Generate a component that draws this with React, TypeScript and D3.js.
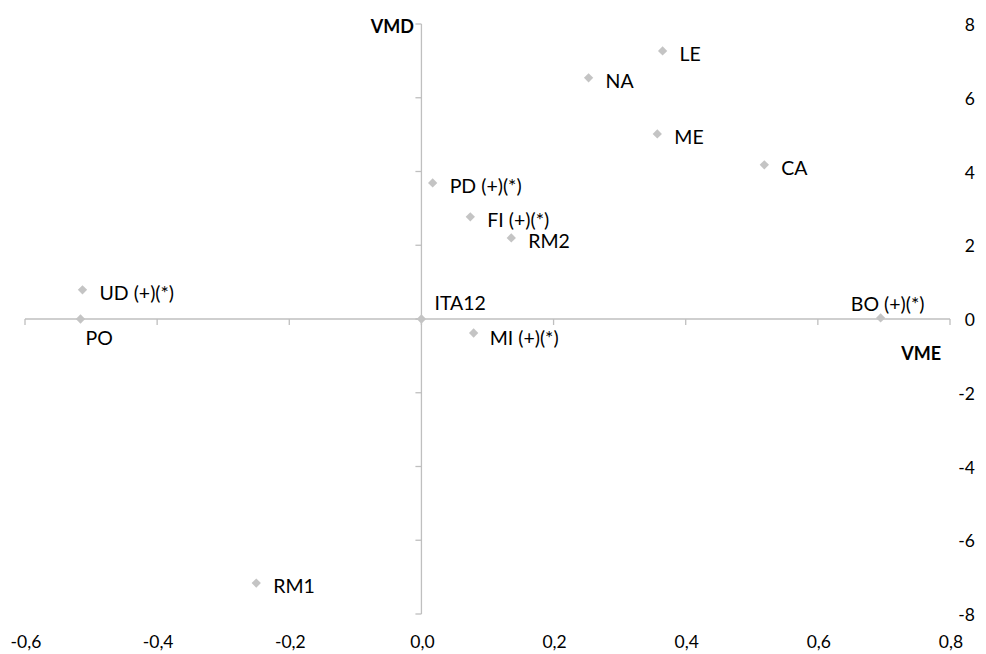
import React from "react";
import * as d3 from "d3";

const names = ["LE", "NA", "ME", "CA", "PD (+)(*)", "FI (+)(*)", "RM2", "UD (+)(*)", "PO", "ITA12", "MI (+)(*)", "BO (+)(*)", "RM1"];
const vme = [0.365, 0.253, 0.357, 0.519, 0.017, 0.074, 0.136, -0.513, -0.516, 0.0, 0.079, 0.695, -0.25];
const vmd = [7.27, 6.54, 5.02, 4.18, 3.69, 2.77, 2.2, 0.79, 0.0, 0.0, -0.38, 0.03, -7.16];
const xTicks = [-0.6, -0.4, -0.2, 0.0, 0.2, 0.4, 0.6, 0.8];
const yTicks = [-8, -6, -4, -2, 0, 2, 4, 6, 8];

// label placement (style): offsets relative to point
const labelPos: Record<string, { dx: number; dy: number; anchor: string }> = {
  "PO": { dx: 5, dy: 26, anchor: "start" },
  "ITA12": { dx: 13, dy: -9, anchor: "start" },
  "BO (+)(*)": { dx: 7, dy: -7, anchor: "middle" },
  "MI (+)(*)": { dx: 16, dy: 12, anchor: "start" },
};

export default function App() {
  const W = 986, H = 654;
  const x = d3.scaleLinear().domain([-0.6, 0.8]).range([25, 950]);
  const y = d3.scaleLinear().domain([-8, 8]).range([614, 24]);
  const axisColor = "#BFBFBF";
  const font = "Lato, 'Open Sans', sans-serif";
  const fmt = (v: number) => v.toFixed(1).replace(".", ",");
  const diamond = d3.symbol().type(d3.symbolDiamond2).size(55)() as string;

  return (
    <svg width={W} height={H} style={{ position: "absolute", left: 0, top: 0, background: "#fff" }} fontFamily={font}>
      {/* x axis */}
      <line x1={x(-0.6)} x2={x(0.8)} y1={y(0)} y2={y(0)} stroke={axisColor} strokeWidth={1.3} />
      {xTicks.map((t) => (
        <line key={"xt" + t} x1={x(t)} x2={x(t)} y1={y(0)} y2={y(0) + 6} stroke={axisColor} strokeWidth={1.3} />
      ))}
      {xTicks.map((t) => (
        <text key={"xl" + t} x={x(t) + 1} y={648} textAnchor="middle" fontSize={17.5} fill="#000">{fmt(t)}</text>
      ))}
      {/* y axis */}
      <line x1={x(0)} x2={x(0)} y1={y(-8)} y2={y(8)} stroke={axisColor} strokeWidth={1.3} />
      {yTicks.map((t) => (
        <text key={"yl" + t} x={975} y={y(t) + 7} textAnchor="end" fontSize={17.5} fill="#000">{t}</text>
      ))}
      {yTicks.map((t) => (
        <line key={"yt" + t} x1={x(0) - 6} x2={x(0)} y1={y(t)} y2={y(t)} stroke={axisColor} strokeWidth={1.3} />
      ))}
      {/* axis titles */}
      <text x={414} y={32.5} textAnchor="end" fontSize={18} fontWeight="bold" fill="#000">VMD</text>
      <text x={941} y={360} textAnchor="end" fontSize={18} fontWeight="bold" fill="#000">VME</text>
      {/* points */}
      {names.map((n, i) => (
        <path key={"p" + n} d={diamond} transform={`translate(${x(vme[i])},${y(vmd[i])})`} fill="#C4C4C4" />
      ))}
      {names.map((n, i) => {
        const p = labelPos[n] || { dx: 17, dy: 10, anchor: "start" };
        return (
          <text key={"l" + n} x={x(vme[i]) + p.dx} y={y(vmd[i]) + p.dy} textAnchor={p.anchor} fontSize={19.5} fill="#000">{n}</text>
        );
      })}
    </svg>
  );
}
